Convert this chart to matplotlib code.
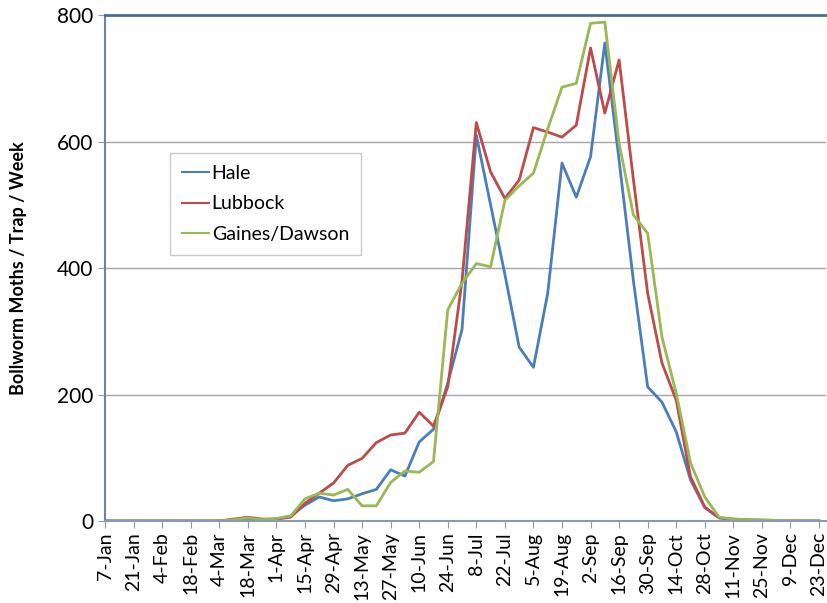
import matplotlib
matplotlib.use("Agg")
import matplotlib.pyplot as plt

# weekly dates, 7-Jan .. 23-Dec
weeks = ["7-Jan", "14-Jan", "21-Jan", "28-Jan", "4-Feb", "11-Feb", "18-Feb", "25-Feb",
         "4-Mar", "11-Mar", "18-Mar", "25-Mar", "1-Apr", "8-Apr", "15-Apr", "22-Apr",
         "29-Apr", "6-May", "13-May", "20-May", "27-May", "3-Jun", "10-Jun", "17-Jun",
         "24-Jun", "1-Jul", "8-Jul", "15-Jul", "22-Jul", "29-Jul", "5-Aug", "12-Aug",
         "19-Aug", "26-Aug", "2-Sep", "9-Sep", "16-Sep", "23-Sep", "30-Sep", "7-Oct",
         "14-Oct", "21-Oct", "28-Oct", "4-Nov", "11-Nov", "18-Nov", "25-Nov", "2-Dec",
         "9-Dec", "16-Dec", "23-Dec"]

hale = [0, 0, 0, 0, 0, 0, 0, 0, 0, 2, 4, 2, 3, 8, 25, 38, 32, 35, 43, 50,
        81, 71, 125, 145, 218, 303, 610, 500, 390, 275, 243, 360, 566, 512, 576, 756,
        570, 380, 212, 188, 141, 65, 21, 5, 2, 1, 1, 0, 0, 0, 0]

lubbock = [0, 0, 0, 0, 0, 0, 0, 0, 0, 3, 6, 3, 3, 6, 28, 44, 60, 88, 99, 124,
           136, 139, 172, 150, 212, 380, 630, 552, 510, 539, 622, 615, 607, 626, 748, 645,
           729, 540, 360, 250, 191, 70, 22, 5, 3, 2, 1, 0, 0, 0, 0]

gaines = [0, 0, 0, 0, 0, 0, 0, 0, 0, 2, 5, 2, 4, 8, 35, 44, 41, 50, 24, 24,
          61, 79, 77, 94, 334, 376, 407, 402, 507, 530, 550, 620, 686, 692, 787, 789,
          597, 484, 455, 291, 202, 92, 38, 6, 3, 2, 2, 1, 0, 0, 0]

plt.rcParams['font.family'] = ['Lato', 'DejaVu Sans']

fig = plt.figure(figsize=(8.27, 6.03), dpi=100)
ax = fig.add_axes([0.127, 0.136, 0.872, 0.839])

x = list(range(len(weeks)))
ax.plot(x, hale, color='#4A7EBB', lw=2, label='Hale')
ax.plot(x, lubbock, color='#BE4B48', lw=2, label='Lubbock')
ax.plot(x, gaines, color='#98B954', lw=2, label='Gaines/Dawson')

ax.set_xlim(0, 50.5)
ax.set_ylim(0, 800)
ax.set_yticks([0, 200, 400, 600, 800])
ax.set_xticks(x[::2])
ax.set_xticklabels(weeks[::2], rotation=90, fontsize=14)
ax.tick_params(axis='y', labelsize=15, length=5, color='#8A9AB0')
ax.tick_params(axis='x', length=5, color='#8A9AB0', pad=3)

ax.grid(axis='y', color='#A6A6A6', lw=1)
ax.set_axisbelow(True)
ax.spines['right'].set_visible(False)
ax.spines['top'].set_color('#4F6D8F')
ax.spines['top'].set_linewidth(2)
ax.spines['left'].set_color('#6F84A0')
ax.spines['left'].set_linewidth(1.5)
ax.spines['bottom'].set_color('#8A9AB0')
ax.spines['bottom'].set_linewidth(1.5)

ax.set_ylabel('Bollworm Moths / Trap / Week', fontsize=13, fontweight='bold')
ax.yaxis.set_label_coords(-0.108, 0.5)

leg = ax.legend(loc='upper left', bbox_to_anchor=(0.09, 0.727), fontsize=14,
                frameon=True, fancybox=False, handlelength=1.4, handletextpad=0.15,
                borderpad=0.6, labelspacing=0.7, borderaxespad=0)
leg.get_frame().set_edgecolor('#BFBFBF')
leg.get_frame().set_linewidth(1)
for line in leg.get_lines():
    line.set_linewidth(1.5)

plt.savefig('out.png', dpi=100)
